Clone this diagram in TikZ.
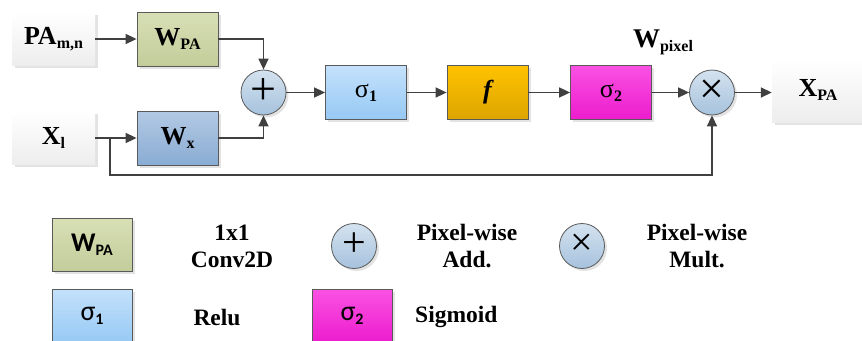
\documentclass[tikz,border=0pt]{standalone}
\usepackage{fontspec}
\setmainfont{Liberation Serif}
\newfontfamily\legsans{Carlito}
\usetikzlibrary{arrows.meta,shadows}
\definecolor{lineC}{HTML}{404040}
\definecolor{borderC}{HTML}{5A5A5A}
\definecolor{wpaT}{HTML}{D8DFB6}
\definecolor{wpaB}{HTML}{C3CD9A}
\definecolor{wxT}{HTML}{B2C9E4}
\definecolor{wxB}{HTML}{8AACD3}
\definecolor{sgT}{HTML}{C4E1FB}
\definecolor{sgB}{HTML}{96C9F4}
\definecolor{fT}{HTML}{FFC200}
\definecolor{fB}{HTML}{DCA500}
\definecolor{smT}{HTML}{FA52E3}
\definecolor{smB}{HTML}{EC1CCD}
\definecolor{cT}{HTML}{D4E2EF}
\definecolor{cB}{HTML}{A6C2DD}
\newcommand\mf{\fontsize{26}{30}\selectfont\bfseries}
\newcommand\lo[1]{\raisebox{-0.32ex}{\fontsize{16}{16}\selectfont\bfseries #1}}
\newcommand\llo[1]{\raisebox{-0.3ex}{\fontsize{16}{16}\selectfont\bfseries #1}}
\tikzset{
  shad/.style={drop shadow={opacity=0.22,shadow xshift=2.5pt,shadow yshift=-2.5pt}},
  blk/.style={draw=borderC, line width=0.8pt, minimum width=81pt, minimum height=54pt, inner sep=0pt, shad},
  inbox/.style={minimum width=83pt, minimum height=53pt, inner sep=0pt, top color=white, bottom color=gray!14, shad},
  op/.style={circle, draw=borderC, line width=0.8pt, minimum size=45pt, inner sep=0pt, top color=cT, bottom color=cB, shad, font=\fontsize{46}{46}\selectfont},
  conn/.style={draw=lineC, line width=1.6pt, -{Triangle[length=11pt,width=10pt]}},
  lbl/.style={font=\bfseries\fontsize{23.5}{27}\selectfont, align=center, inner sep=0pt},
}
\begin{document}
\begin{tikzpicture}[x=1pt,y=-1pt]
\useasboundingbox (0,0) rectangle (862,340);
% main
\node[inbox] (pa) at (53.5,39) {\mf PA\lo{m,n}};
\node[blk, top color=wpaT, bottom color=wpaB] (wpa) at (177.5,39) {\mf W\lo{PA}};
\node[inbox] (xl) at (53.5,138) {\mf X\lo{l}};
\node[blk, top color=wxT, bottom color=wxB] (wx) at (177.5,138) {\mf W\lo{x}};
\node[op] (add) at (263.5,92.5) {\raisebox{0.05em}{+}};
\node[blk, top color=sgT, bottom color=sgB] (s1) at (366,92.5) {\fontsize{26}{30}\selectfont σ\lo{1}};
\node[blk, top color=fT, bottom color=fB] (f) at (487.5,92.5) {\mf\itshape f};
\node[blk, top color=smT, bottom color=smB] (s2) at (611,92.5) {\fontsize{26}{30}\selectfont σ\lo{2}};
\node[op, font=\fontsize{44}{44}\selectfont] (mul) at (712,92.5) {\raisebox{0.05em}{×}};
\node[inbox, minimum width=92pt, minimum height=64pt] (xpa) at (818,90) {\mf X\lo{PA}};
\node[inner sep=0pt] (wpix) at (663,42) {\fontsize{27}{30}\selectfont\bfseries W\lo{pixel}};
\coordinate (br) at (110,138);
\coordinate (fb) at (110,175);
\draw[conn] (pa) -- (wpa);
\draw[conn] (xl) -- (wx);
\draw[conn] (wpa.east) -| (add.north);
\draw[conn] (wx.east) -| (add.south);
\draw[conn] (add) -- (s1);
\draw[conn] (s1) -- (f);
\draw[conn] (f) -- (s2);
\draw[conn] (s2) -- (mul);
\draw[conn] (mul.east) -- (mul.east -| xpa.west);
\draw[conn] (br) -- (fb) -| (mul.south);
% legend
\node[blk, minimum width=80pt, minimum height=53pt, top color=wpaT, bottom color=wpaB] (lwpa) at (92,244.5) {\legsans\fontsize{27}{30}\selectfont\bfseries W\llo{\legsans PA}};
\node[lbl] (lconv) at (232,246) {1x1\\Conv2D};
\node[op, minimum size=45pt, font=\fontsize{42}{42}\selectfont] (ladd) at (354,246) {\raisebox{0.05em}{+}};
\node[lbl] (laddt) at (467,246) {Pixel-wise\\Add.};
\node[op, minimum size=45pt, font=\fontsize{40}{40}\selectfont] (lmul) at (582,246) {\raisebox{0.05em}{×}};
\node[lbl] (lmult) at (697,246) {Pixel-wise\\Mult.};
\node[blk, minimum width=80pt, minimum height=54pt, top color=sgT, bottom color=sgB] (ls1) at (92,316) {\legsans\fontsize{28}{30}\selectfont σ\llo{\legsans 1}};
\node[lbl] (lrelu) at (217,317) {Relu};
\node[blk, minimum width=80pt, minimum height=54pt, top color=smT, bottom color=smB] (ls2) at (352,316) {\legsans\fontsize{28}{30}\selectfont σ\llo{\legsans 2}};
\node[lbl, anchor=west] (lsig) at (415,317) {Sigmoid};
\end{tikzpicture}
\end{document}
